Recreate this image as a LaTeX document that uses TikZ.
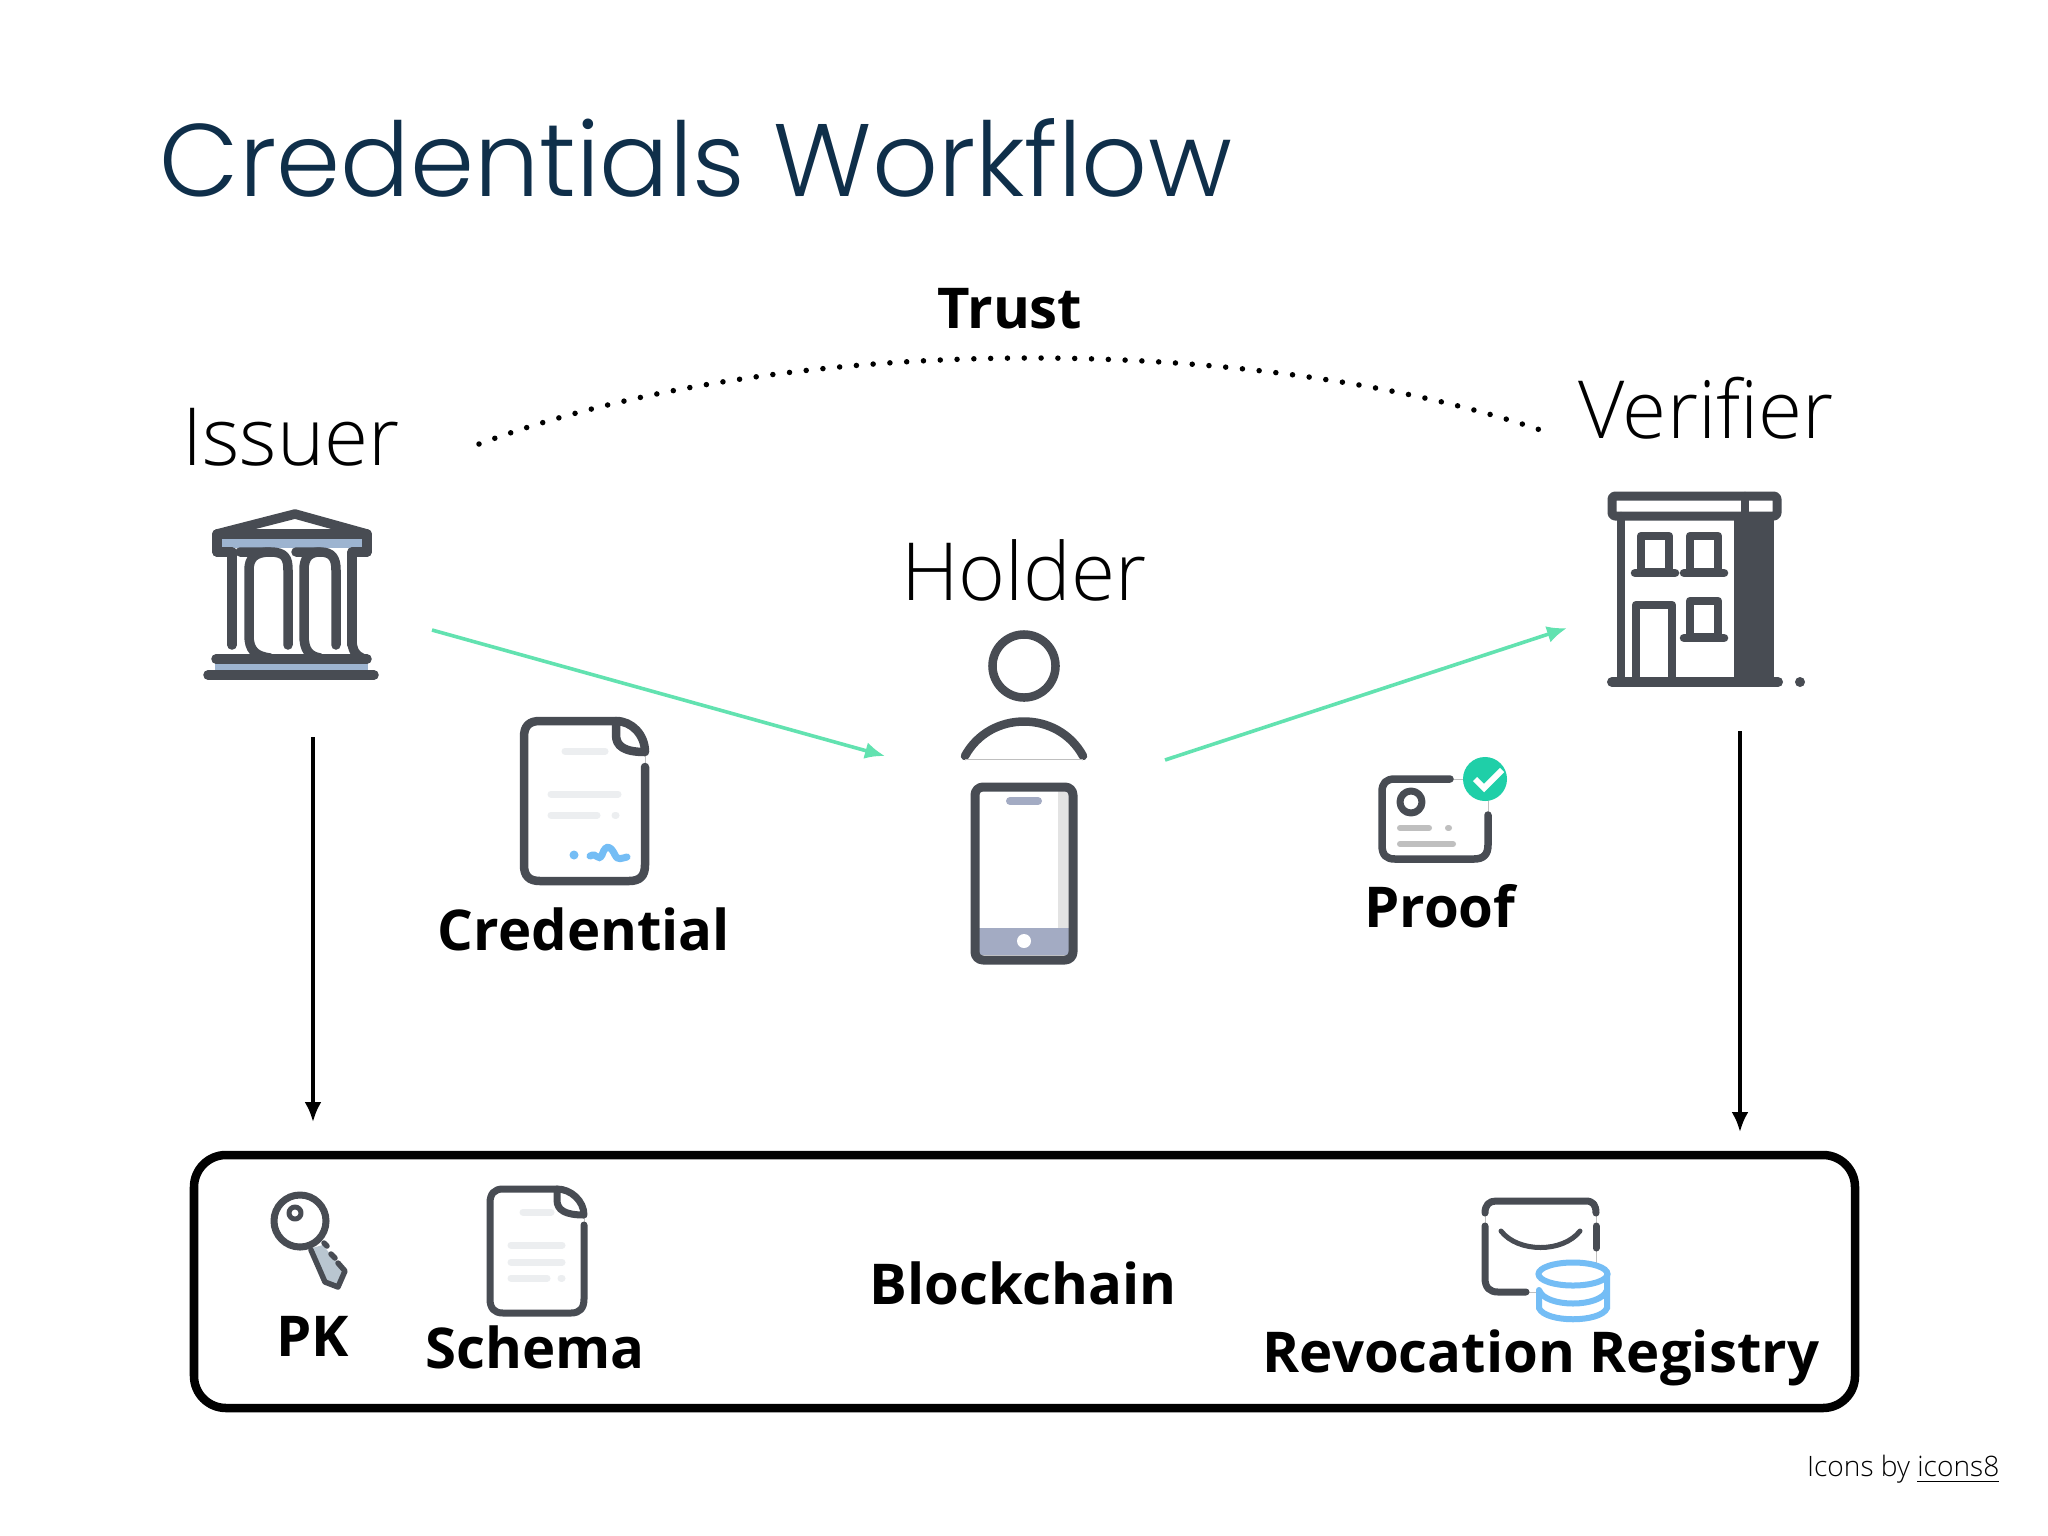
\documentclass[tikz,border=0pt]{standalone}
\usepackage{fontspec}
\setmainfont{Open Sans}
\newfontfamily\lightfont{Open Sans Light}
\newfontfamily\titlefont{Poppins Light}
\usetikzlibrary{arrows.meta}
\definecolor{titleblue}{HTML}{0F2F4A}
\definecolor{iconink}{HTML}{484C53}
\definecolor{flowgreen}{HTML}{62E2B0}
\definecolor{bankblue}{HTML}{9DB4D0}
\definecolor{paleline}{HTML}{ECEEF0}
\definecolor{signblue}{HTML}{74BDF5}
\definecolor{checkgreen}{HTML}{1FCFA8}
\definecolor{phoneblue}{HTML}{A3ABC3}
\definecolor{keygray}{HTML}{B9C6D0}
\begin{document}
\begin{tikzpicture}[x=0.01cm, y=-0.01cm, >={Latex[length=0.2cm,width=0.17cm]}]
	\tikzset{role/.style={anchor=base, font=\lightfont\fontsize{22.8}{28}\selectfont},
		item/.style={anchor=base, font=\bfseries\fontsize{16}{19}\selectfont},
		icon/.style={draw=iconink, line width=0.085cm, line cap=round, line join=round},
		bank/.style={icon, line width=0.095cm},
		pale/.style={draw=paleline, line width=0.07cm, line cap=round},
		link/.style={draw=lightgray, line width=0.01cm},
		flow/.style={draw=flowgreen, line width=0.036cm, ->},
		anchorflow/.style={draw=black, line width=0.036cm, ->},
	}
	\fill[white] (0,0) rectangle (2048,1536);
	\useasboundingbox (0,0) rectangle (2048,1536);

	\node[anchor=base west, inner sep=0, text=titleblue, font=\titlefont\fontsize{29.3}{34}\selectfont] (title) at (159,196) {Credentials Workflow};
	\node[item] (trust) at (1010,328) {Trust};
	\node[role] (issuer) at (291,465) {Issuer};
	\node[role] (verifier) at (1706,438) {Verifier};
	\node[role] (holder) at (1024,600) {Holder};
	\node[item] (credential) at (584,950) {Credential};
	\node[item] (proof) at (1440,927) {Proof};
	\node[item] (pk) at (313,1356) {PK};
	\node[item] (schema) at (535,1368) {Schema};
	\node[item] (blockchain) at (1023,1304) {Blockchain};
	\node[item] (registry) at (1541,1372) {Revocation Registry};
	\node[anchor=base east, inner sep=0, font=\lightfont\fontsize{8}{10}\selectfont] (credit) at (2000,1476) {Icons by \underline{icons8}};

	% connector ends
	\coordinate (trustl) at (479,444);
	\coordinate (trustr) at (1552,434);
	\coordinate (issuerout) at (432,630);
	\coordinate (holderin) at (885,756);
	\coordinate (holderout) at (1165,760);
	\coordinate (verifierin) at (1567,628);
	\coordinate (issuerdown) at (313,737);
	\coordinate (chainl) at (313,1122);
	\coordinate (verifierdown) at (1740,731);
	\coordinate (chainr) at (1740,1132);

	\draw[line width=0.055cm, line cap=round, dash pattern=on 0pt off 0.168cm] (trustl) .. controls (790,328) and (1270,334) .. (trustr);
	\draw[flow] (issuerout) -- (holderin);
	\draw[flow] (holderout) -- (verifierin);
	\draw[anchorflow] (issuerdown) -- (chainl);
	\draw[anchorflow] (verifierdown) -- (chainr);

	% blockchain box
	\draw[line width=0.085cm, rounded corners=0.32cm] (194,1155) rectangle (1855,1408);

	% issuer icon
	\fill[bankblue] (218,538) rectangle (366,548);
	\fill[bankblue] (215,660) rectangle (368,675);
	\draw[bank] (217,534) -- (295,514) -- (367,534);
	\draw[bank] (217,534) -- (367,534) -- (367,552) (217,534) -- (217,552);
	\draw[bank] (217,552) -- (232,552) -- (232,645);
	\draw[bank] (240,552) -- (270,552) .. controls (285,552) and (288,558) .. (288,570) -- (288,645);
	\draw[bank] (270,552) .. controls (255,552) and (249,558) .. (249,570) -- (249,635) .. controls (249,650) and (255,656) .. (270,658);
	\draw[bank] (296,552) -- (320,552) .. controls (332,552) and (336,558) .. (336,570) -- (336,645);
	\draw[bank] (320,552) .. controls (309,552) and (304,558) .. (304,570) -- (304,635) .. controls (304,650) and (309,656) .. (320,658);
	\draw[bank] (352,645) -- (352,552) -- (367,552);
	\draw[bank] (352,640) .. controls (352,650) and (356,656) .. (362,658);
	\draw[bank] (216,659) -- (367,659);
	\draw[bank] (208,675) -- (374,675);

	% credential icon
	\draw[pale] (565,751) -- (605,751) (551,794) -- (618,794) (551,815) -- (597,815) (615,815) -- (616,815);
	\draw[link] (645,752) -- (645,767);
	\draw[icon] (645,767) -- (645,865) .. controls (645,876) and (640,881) .. (629,881) -- (540,881) .. controls (529,881) and (524,876) .. (524,865) -- (524,737) .. controls (524,726) and (529,721) .. (540,721) -- (616,721);
	\draw[icon] (616,721) -- (616,735) .. controls (616,746) and (624,752) .. (645,752) .. controls (645,735) and (632,721) .. (616,721);
	\fill[signblue] (574,855) circle (0.045cm);
	\draw[signblue, line width=0.07cm, line cap=round] (590,856) .. controls (597,852) and (598,862) .. (602,855) .. controls (606,842) and (612,848) .. (615,855) .. controls (618,861) and (622,858) .. (627,857);

	% holder icon
	\draw[icon] (1024,666) circle (0.315cm);
	\draw[icon] (965,756) .. controls (990,710) and (1058,710) .. (1083,756);
	\draw[link] (965,759) -- (1083,759);
	\fill[phoneblue] (979,928) rectangle (1069,955);
	\fill[gray!22] (1058,790) rectangle (1069,928);
	\fill[white] (1024,941) circle (0.07cm);
	\draw[draw=phoneblue, line width=0.08cm, line cap=round] (1010,801) -- (1038,801);
	\draw[icon, line width=0.09cm, rounded corners=0.08cm] (975,787) rectangle (1073,960);

	% proof icon
	\draw[draw=lightgray, line width=0.06cm, line cap=round] (1400,828) -- (1429,828) (1448,828) -- (1449,828) (1400,844) -- (1453,844);
	\draw[link] (1450,779) -- (1470,779) (1488,795) -- (1488,815);
	\draw[icon, line width=0.075cm] (1450,779) -- (1395,779) .. controls (1386,779) and (1382,783) .. (1382,792) -- (1382,845) .. controls (1382,855) and (1386,859) .. (1395,859) -- (1474,859) .. controls (1483,859) and (1488,855) .. (1488,845) -- (1488,815);
	\draw[icon, line width=0.07cm] (1411,802) circle (0.11cm);
	\fill[checkgreen] (1485,779) circle (0.22cm);
	\draw[white, line width=0.06cm] (1475,779) -- (1484,788) -- (1502,770);

	% verifier icon
	\fill[iconink] (1734,516) rectangle (1774,682);
	\draw[icon] (1621,516) -- (1621,682);
	\draw[icon, line width=0.09cm, rounded corners=0.03cm] (1612,496) rectangle (1777,516);
	\draw[icon] (1745,496) -- (1745,516);
	\draw[icon] (1636,682) -- (1636,605) -- (1672,605) -- (1672,682);
	\draw[icon] (1641,536) rectangle (1669,572);
	\draw[icon] (1690,536) rectangle (1718,572);
	\draw[icon] (1690,601) rectangle (1718,637);
	\draw[icon] (1635,573) -- (1675,573) (1684,573) -- (1724,573) (1684,638) -- (1724,638);
	\draw[icon, line width=0.1cm] (1612,682) -- (1778,682);
	\fill[iconink] (1800,682) circle (0.05cm);

	% key icon
	\fill[keygray] (312,1248) -- (323,1245) -- (345,1273) -- (338,1288) -- (323,1283) -- cycle;
	\draw[icon, line width=0.055cm] (311,1250) -- (325,1282) -- (338,1287) -- (345,1271) -- (338,1263);
	\draw[fill=white, icon, line width=0.07cm] (300,1221) circle (0.26cm);
	\draw[icon, line width=0.05cm] (295,1213) circle (0.06cm);
	\draw[icon, line width=0.055cm] (324,1243) -- (327,1246) (331,1254) -- (335,1258);

	% schema icon
	\draw[pale] (523,1212) -- (551,1212) (511,1245) -- (562,1245) (511,1262) -- (562,1262) (511,1278) -- (547,1278) (561,1278) -- (562,1278);
	\draw[link] (584,1215) -- (584,1225);
	\draw[icon, line width=0.07cm] (584,1225) -- (584,1299) .. controls (584,1308) and (580,1313) .. (571,1313) -- (503,1313) .. controls (494,1313) and (490,1308) .. (490,1299) -- (490,1203) .. controls (490,1194) and (494,1189) .. (503,1189) -- (557,1189);
	\draw[icon, line width=0.07cm] (557,1189) -- (557,1200) .. controls (557,1210) and (565,1215) .. (584,1215) .. controls (584,1201) and (571,1189) .. (557,1189);

	% registry icon
	\draw[link] (1485,1213) -- (1485,1226) (1596,1213) -- (1596,1226) (1596,1248) -- (1596,1264) (1526,1292) -- (1539,1292);
	\draw[icon, line width=0.07cm] (1485,1213) .. controls (1485,1205) and (1489,1201) .. (1496,1201) -- (1586,1201) .. controls (1593,1201) and (1596,1205) .. (1596,1213);
	\draw[icon, line width=0.07cm] (1485,1226) -- (1485,1278) .. controls (1485,1288) and (1490,1292) .. (1498,1292) -- (1526,1292);
	\draw[icon, line width=0.07cm] (1596,1226) -- (1596,1248);
	\draw[icon, line width=0.05cm] (1501,1231) .. controls (1518,1253) and (1563,1253) .. (1580,1231);
	\draw[signblue, line width=0.06cm] (1573,1274) ellipse (0.345cm and 0.115cm);
	\draw[signblue, line width=0.06cm] (1539,1290) .. controls (1545,1308) and (1601,1308) .. (1607,1290);
	\draw[signblue, line width=0.06cm, line cap=round] (1539,1290) -- (1539,1308) .. controls (1545,1323) and (1601,1323) .. (1607,1308) -- (1607,1274);
\end{tikzpicture}
\end{document}
